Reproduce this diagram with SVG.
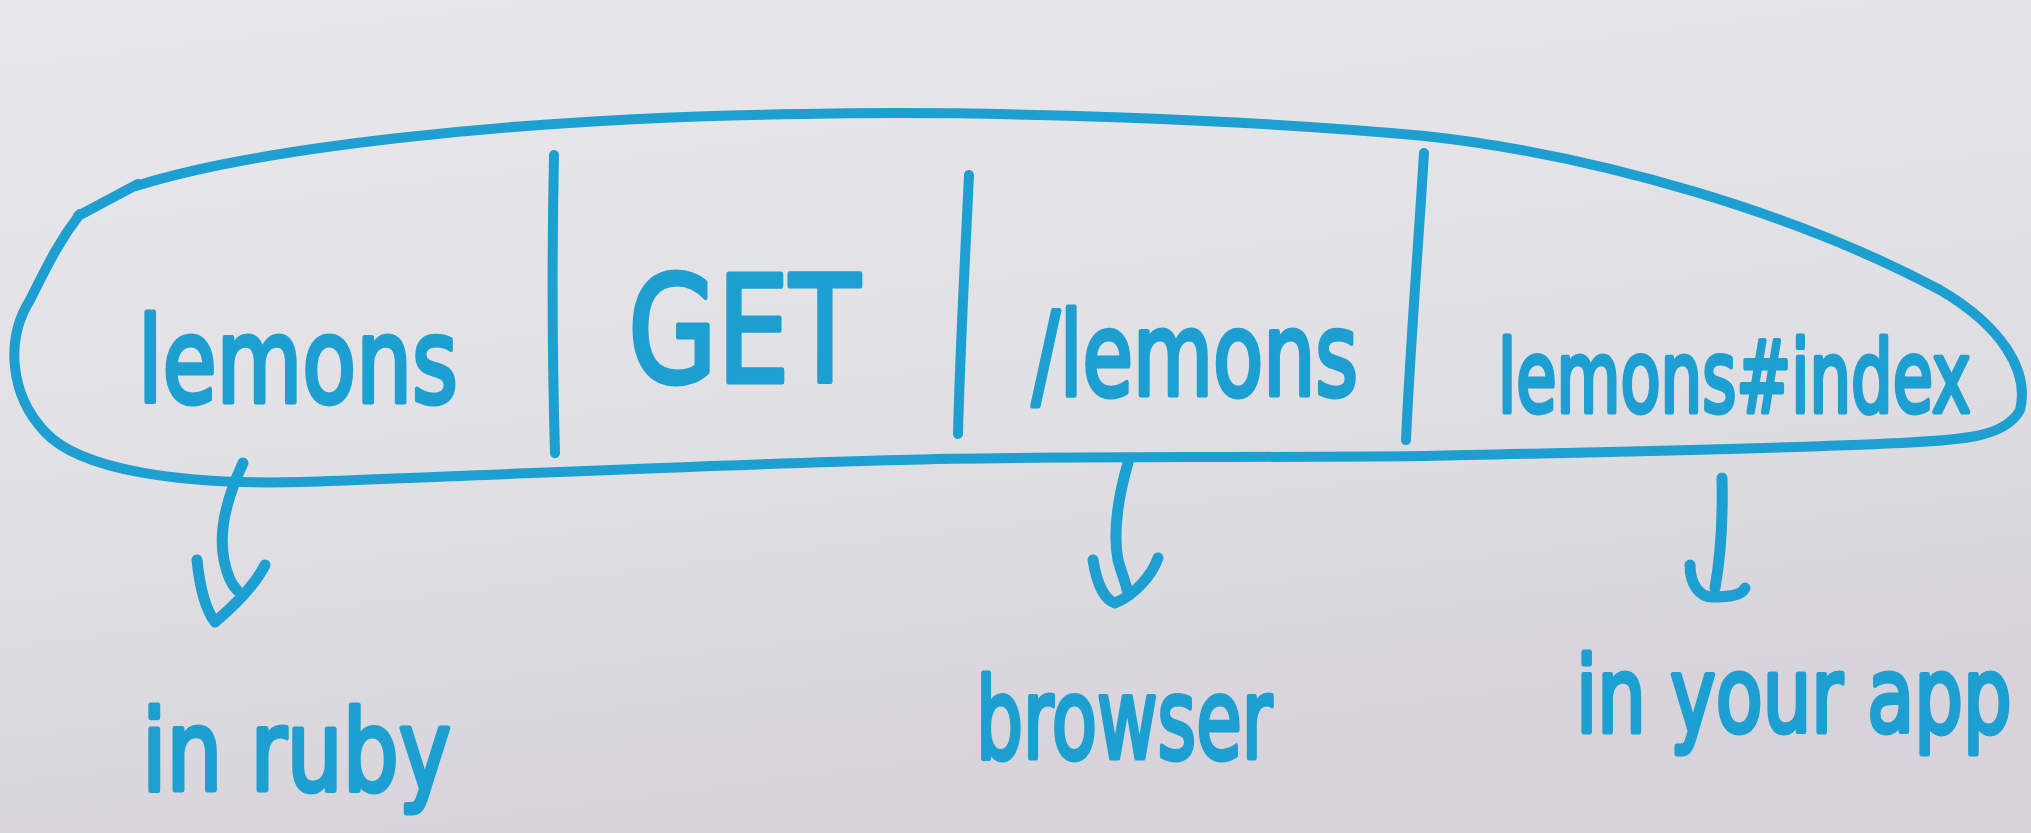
<svg xmlns="http://www.w3.org/2000/svg" width="2031" height="833" viewBox="0 0 2031 833">
<defs>
<linearGradient id="bg" x1="0" y1="0" x2="0.3" y2="1">
<stop offset="0" stop-color="#e9e9ec"/>
<stop offset="0.6" stop-color="#e0dfe3"/>
<stop offset="1" stop-color="#d6d4da"/>
</linearGradient>
<style>
.ink{fill:none;stroke:#1d9fd1;stroke-width:10;stroke-linecap:round;stroke-linejoin:round}
.thin{fill:none;stroke:#1d9fd1;stroke-width:11;stroke-linecap:round;stroke-linejoin:round}
.t{font-family:"DejaVu Sans","Liberation Sans",sans-serif;fill:#1d9fd1;stroke:#1d9fd1;stroke-width:5;stroke-linejoin:round}
</style>
</defs>
<rect width="2031" height="833" fill="url(#bg)"/>
<g id="outline">
<path class="ink" d="M136,186 C250,150 500,118 803,114 C1000,110 1250,120 1425,136 C1600,155 1800,215 1940,290 C2000,325 2030,370 2020,410 C2005,438 1960,440 1900,443 C1750,450 1600,452 1425,456 C1200,458 1036,456 900,460 C700,465 500,475 300,482 C180,485 80,470 45,432 C10,395 5,340 30,300 C50,260 60,240 80,214"/>
<path class="ink" d="M78,216 L138,184"/>
</g>
<g id="dividers">
<path class="ink" d="M554,155 C552,250 552,350 555,453"/>
<path class="ink" d="M969,175 C965,260 960,350 958,434"/>
<path class="ink" d="M1424,153 C1418,250 1410,350 1406,440"/>
</g>
<g id="node-lemons"><text class="t" transform="translate(138,402) scale(0.746,1)" font-size="118">lemons</text></g>
<g id="node-get"><text class="t" transform="translate(628,382) scale(0.777,1)" font-size="148">GET</text></g>
<g id="node-path"><text class="t" transform="translate(1032,395) scale(0.714,1)" font-size="115">/lemons</text></g>
<g id="node-action"><text class="t" transform="translate(1498,412) scale(0.656,1)" font-size="100">lemons#index</text></g>
<g id="connectors">
<path class="thin" d="M243,463 C228,495 218,530 224,560 C227,575 232,585 237,590"/>
<path class="thin" d="M197,560 C200,590 206,610 215,622 C235,605 255,585 265,565"/>
<path class="thin" d="M1128,463 C1120,490 1112,530 1118,560 C1122,575 1126,583 1127,590"/>
<path class="thin" d="M1093,560 C1097,585 1105,600 1115,603 C1135,595 1152,575 1158,558"/>
<path class="thin" d="M1722,478 C1723,520 1720,560 1715,588"/>
<path class="thin" d="M1690,565 C1690,585 1700,597 1712,597 C1730,597 1742,595 1745,588"/>
</g>
<g id="label-ruby"><text class="t" transform="translate(142,790) scale(0.788,1)" font-size="112">in ruby</text></g>
<g id="label-browser"><text class="t" transform="translate(976,758) scale(0.661,1)" font-size="112">browser</text></g>
<g id="label-app"><text class="t" transform="translate(1576,732) scale(0.731,1)" font-size="105">in your app</text></g>
</svg>
